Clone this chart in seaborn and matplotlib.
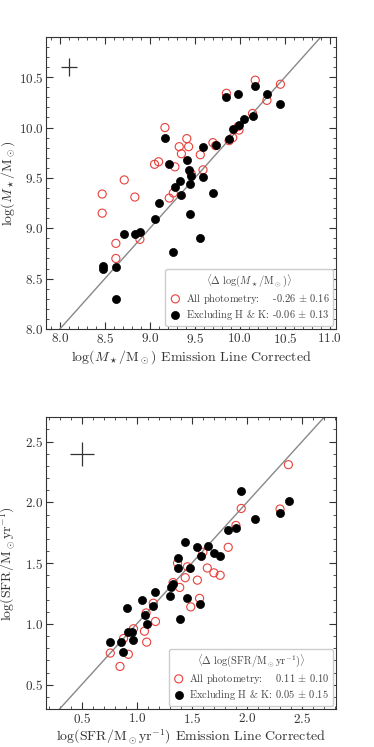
import numpy as np
import pandas as pd
import matplotlib
matplotlib.use("Agg")
import matplotlib.pyplot as plt
import seaborn as sns

# ---------------- data ----------------
# Stellar mass: red open = all photometry, black filled = excluding H & K
mass_x_all = [8.47, 8.47, 8.715, 8.833, 9.167, 9.052, 9.097, 9.278, 9.326, 9.35, 9.41, 9.43,
              9.46, 9.59, 9.56, 9.70, 9.73, 9.215, 9.26, 9.85, 10.17, 10.45, 10.30, 10.14,
              9.99, 9.92, 9.88, 9.98, 8.622, 8.622, 8.889]
mass_y_all = [9.34, 9.15, 9.48, 9.31, 10.00, 9.635, 9.66, 9.61, 9.81, 9.74, 9.89, 9.81,
              9.54, 9.58, 9.73, 9.85, 9.82, 9.30, 9.35, 10.34, 10.47, 10.43, 10.27, 10.14,
              9.975, 9.90, 9.87, 10.01, 8.85, 8.70, 8.89]
mass_x_hk = [9.167, 9.215, 9.41, 9.43, 9.46, 9.45, 9.333, 9.278, 9.35, 9.59, 9.59, 9.733,
             9.70, 9.45, 9.10, 9.056, 9.85, 9.98, 10.17, 10.30, 10.45, 10.14, 10.04, 9.985,
             9.92, 9.88, 8.715, 8.833, 8.889, 9.56, 9.26, 8.474, 8.474, 8.622, 8.622]
mass_y_hk = [9.90, 9.635, 9.68, 9.58, 9.52, 9.44, 9.47, 9.41, 9.33, 9.51, 9.81, 9.83,
             9.35, 9.14, 9.25, 9.09, 10.30, 10.33, 10.41, 10.33, 10.235, 10.11, 10.085, 10.025,
             9.985, 9.89, 8.94, 8.94, 8.96, 8.90, 8.76, 8.63, 8.60, 8.62, 8.30]

# SFR
sfr_x_all = [2.376, 2.30, 1.948, 1.90, 1.83, 1.60, 1.37, 1.46, 1.64, 1.70, 1.757, 1.55,
             1.44, 1.33, 1.39, 1.15, 1.57, 1.49, 1.085, 1.17, 1.07, 0.97, 1.09, 0.88,
             0.76, 0.924, 0.848]
sfr_y_all = [2.31, 1.945, 1.95, 1.81, 1.63, 1.59, 1.50, 1.47, 1.46, 1.42, 1.40, 1.36,
             1.38, 1.34, 1.30, 1.17, 1.21, 1.14, 1.09, 1.02, 0.94, 0.96, 0.85, 0.88,
             0.76, 0.75, 0.65]
sfr_x_hk = [2.38, 2.30, 1.948, 2.07, 1.90, 1.83, 1.44, 1.545, 1.645, 1.70, 1.757, 1.585,
            1.37, 1.37, 1.485, 1.33, 1.315, 1.30, 1.17, 1.045, 1.148, 1.458, 1.57, 1.39,
            0.909, 1.076, 1.09, 0.924, 0.955, 0.97, 0.76, 0.855, 0.879]
sfr_y_hk = [2.01, 1.91, 2.09, 1.86, 1.79, 1.77, 1.67, 1.63, 1.64, 1.58, 1.56, 1.56,
            1.54, 1.46, 1.46, 1.33, 1.30, 1.23, 1.26, 1.20, 1.15, 1.21, 1.16, 1.04,
            1.13, 1.07, 1.00, 0.93, 0.93, 0.87, 0.85, 0.85, 0.77]

# typical error crosses
mass_err_pos = (8.1, 10.6)
mass_err = (0.09, 0.09)
sfr_err_pos = (0.5, 2.4)
sfr_err = (0.11, 0.10)

mass_stats = ("-0.26", "0.16", "-0.06", "0.13")
sfr_stats = ("0.11", "0.10", "0.05", "0.15")

# ---------------- style ----------------
sns.set_theme(style="ticks")
plt.rcParams["font.family"] = ["cmr10", "DejaVu Serif"]
plt.rcParams["mathtext.fontset"] = "cm"
plt.rcParams["axes.formatter.use_mathtext"] = True
plt.rcParams["axes.unicode_minus"] = False

RED = "#e8413c"
DARK = "#333333"

fig = plt.figure(figsize=(3.74, 7.47), dpi=100)
ax1 = fig.add_axes([0.124, 0.5596, 0.775, 0.391])
ax2 = fig.add_axes([0.124, 0.0509, 0.775, 0.3905])


def panel(ax, xa, ya, xh, yh, errpos, err, stats, xlim, ylim, xlabel, ylabel, title):
    ax.axline((0, 0), slope=1, color="#888888", lw=1.0, zorder=1)
    df_a = pd.DataFrame({"x": xa, "y": ya})
    df_h = pd.DataFrame({"x": xh, "y": yh})
    sns.scatterplot(data=df_a, x="x", y="y", ax=ax, color=RED, facecolor="none",
                    edgecolor=RED, linewidth=0.8, s=34, zorder=2,
                    label=r"All photometry:    %s $\pm$ %s" % (stats[0], stats[1]))
    sns.scatterplot(data=df_h, x="x", y="y", ax=ax, color="black", edgecolor="black",
                    linewidth=0.5, s=34, zorder=3,
                    label=r"Excluding H & K: %s $\pm$ %s" % (stats[2], stats[3]))
    ax.errorbar([errpos[0]], [errpos[1]], xerr=[err[0]], yerr=[err[1]], fmt="none",
                ecolor=DARK, elinewidth=0.9, capsize=0)
    ax.set_xlim(*xlim)
    ax.set_ylim(*ylim)
    ax.set_xlabel(xlabel, fontsize=10, color=DARK, labelpad=1.5)
    ax.set_ylabel(ylabel, fontsize=10, color=DARK)
    ax.yaxis.set_label_coords(-0.101, 0.5)
    ax.xaxis.set_major_locator(matplotlib.ticker.MultipleLocator(0.5))
    ax.yaxis.set_major_locator(matplotlib.ticker.MultipleLocator(0.5))
    ax.xaxis.set_minor_locator(matplotlib.ticker.MultipleLocator(0.1))
    ax.yaxis.set_minor_locator(matplotlib.ticker.MultipleLocator(0.1))
    ax.tick_params(which="both", direction="in", top=True, right=True,
                   colors=DARK, labelsize=9.5, pad=2)
    ax.tick_params(which="major", length=5, width=0.8)
    ax.tick_params(which="minor", length=2.5, width=0.6)
    for sp in ax.spines.values():
        sp.set_color(DARK)
        sp.set_linewidth(0.8)
    leg = ax.legend(loc="lower right", title=title, fontsize=7.5, title_fontsize=7.5,
                    frameon=True, fancybox=True, edgecolor="#cccccc", framealpha=1,
                    handletextpad=0.4, borderpad=0.35, labelspacing=0.25,
                    borderaxespad=0.3, handlelength=1.2)
    for t in leg.get_texts():
        t.set_color("#444444")
    leg.get_title().set_color("#444444")


panel(ax1, mass_x_all, mass_y_all, mass_x_hk, mass_y_hk, mass_err_pos, mass_err,
      mass_stats, (7.85, 11.07), (8.0, 10.9),
      r"$\log(M_\star/\mathrm{M}_\odot)$ Emission Line Corrected",
      r"$\log(M_\star/\mathrm{M}_\odot)$",
      r"$\langle\Delta\ \log(M_\star/\mathrm{M}_\odot)\rangle$")
panel(ax2, sfr_x_all, sfr_y_all, sfr_x_hk, sfr_y_hk, sfr_err_pos, sfr_err,
      sfr_stats, (0.18, 2.81), (0.3, 2.7),
      r"$\log(\mathrm{SFR/M_\odot yr^{-1}})$ Emission Line Corrected",
      r"$\log(\mathrm{SFR/M_\odot yr^{-1}})$",
      r"$\langle\Delta\ \log(\mathrm{SFR/M_\odot yr^{-1}})\rangle$")

fig.savefig("out.png", dpi=100)
